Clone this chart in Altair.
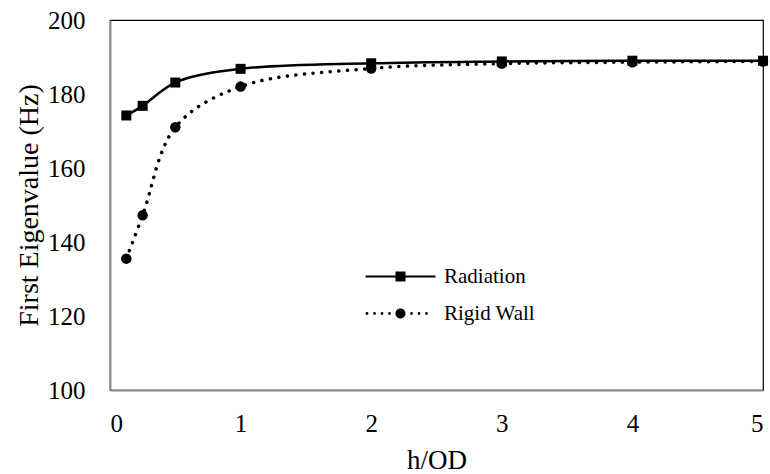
import altair as alt
import pandas as pd

# ---- data ----
h_od = [0.125, 0.25, 0.5, 1, 2, 3, 4, 5]
radiation = [174.2, 176.8, 183.1, 186.8, 188.3, 188.8, 189.0, 189.0]
rigid_wall = [135.5, 147.2, 171.0, 182.0, 186.9, 188.2, 188.6, 188.8]
series_names = ["Radiation", "Rigid Wall"]
x_ticks = [0, 1, 2, 3, 4, 5]
y_ticks = [100, 120, 140, 160, 180, 200]

rows = []
for name, vals in zip(series_names, [radiation, rigid_wall]):
    for x, y in zip(h_od, vals):
        rows.append({"h/OD": x, "value": y, "series": name})
df = pd.DataFrame(rows)

FONT = "Liberation Serif"

x_enc = alt.X("h/OD:Q", scale=alt.Scale(domain=[0, 5], nice=False),
              axis=alt.Axis(values=x_ticks, title="h/OD", grid=False, ticks=False, tickSize=0,
                            labelFontSize=25, titleFontSize=27, labelPadding=21, titlePadding=11,
                            domainColor="#8c8c8c", domainWidth=2, labelColor="black",
                            titleColor="black", titleFontWeight="normal", labelFont=FONT, titleFont=FONT))
y_enc = alt.Y("value:Q", scale=alt.Scale(domain=[100, 200], nice=False, zero=False),
              axis=alt.Axis(values=y_ticks, title="First Eigenvalue (Hz)", grid=False, ticks=False,
                            tickSize=0, labelFontSize=25, titleFontSize=28, labelPadding=25,
                            titlePadding=4, domainColor="#8c8c8c", domainWidth=2,
                            labelColor="black", titleColor="black", titleFontWeight="normal",
                            labelFont=FONT, titleFont=FONT))

rad = df[df["series"] == "Radiation"]
rig = df[df["series"] == "Rigid Wall"]

line_rad = alt.Chart(rad).mark_line(color="black", strokeWidth=2.5, interpolate="catmull-rom").encode(
    x=x_enc, y=y_enc)
line_rig = alt.Chart(rig).mark_line(color="black", strokeWidth=3.5, strokeDash=[0.1, 8.5],
                                    strokeCap="round", interpolate="catmull-rom").encode(x=x_enc, y=y_enc)

pts = alt.Chart(df).mark_point(filled=True, color="black", opacity=1).encode(
    x=x_enc, y=y_enc,
    shape=alt.Shape("series:N", scale=alt.Scale(domain=series_names, range=["square", "circle"]),
                    legend=None),
    size=alt.Size("series:N", scale=alt.Scale(domain=series_names, range=[100, 110]), legend=None),
)

# legend symbols: line + marker drawn as filled custom paths (1 unit = 10 px)
rad_path = ("M-3.5,-0.11 L3.5,-0.11 L3.5,0.11 L-3.5,0.11 Z "
            "M-0.5,-0.5 L0.5,-0.5 L0.5,0.5 L-0.5,0.5 Z")

def dot(cx, r):
    return f"M{cx - r},0 A{r},{r} 0 1,0 {cx + r},0 A{r},{r} 0 1,0 {cx - r},0 Z "

rig_path = "".join(dot(c, 0.14) for c in [-3.35, -2.6, -1.85, -1.1, 1.1, 1.85, 2.6]) + dot(0, 0.5)

legend_layer = alt.Chart(df).mark_point(filled=True, color="black", opacity=0).encode(
    x=x_enc, y=y_enc,
    shape=alt.Shape("series:N", scale=alt.Scale(domain=series_names, range=[rad_path, rig_path]),
                    legend=alt.Legend(title=None, orient="none", legendX=280, legendY=246,
                                      symbolSize=400, symbolOpacity=1, symbolFillColor="black",
                                      symbolStrokeWidth=0,
                                      labelFontSize=21, labelFont=FONT, labelColor="black",
                                      labelOffset=33, rowPadding=15, padding=0,
                                      labelLimit=300)),
)

chart = alt.layer(line_rad, line_rig, pts, legend_layer).resolve_scale(
    shape="independent", size="independent"
).properties(
    width=653, height=370,
    autosize=alt.AutoSizeParams(type="none"),
    padding={"left": 110, "top": 20, "right": 7, "bottom": 84},
    background="white",
).configure(
    font=FONT,
    style={"guide-label": {"font": FONT}, "guide-title": {"font": FONT}},
).configure_axis(
    labelFont=FONT, titleFont=FONT
).configure_legend(
    labelFont=FONT
).configure_view(stroke="black", strokeWidth=1.2)

chart.save("out.html", embed_options={"renderer": "svg", "actions": False})
